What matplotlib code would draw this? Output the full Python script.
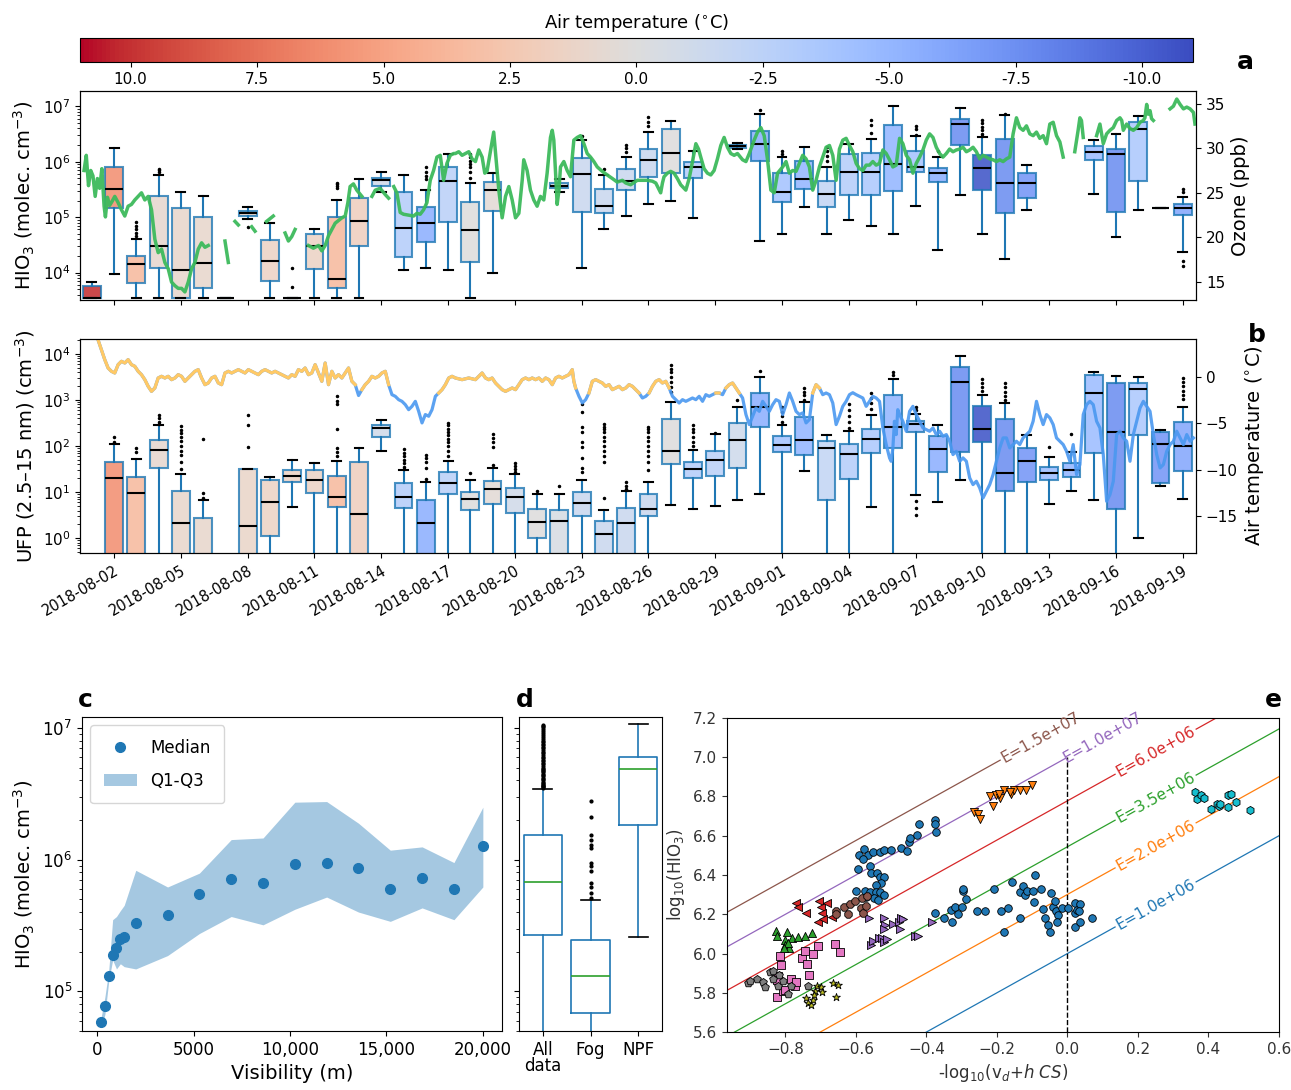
import numpy as np
import matplotlib
matplotlib.use("Agg")
import matplotlib.pyplot as plt
from matplotlib.colors import Normalize
from matplotlib.cm import ScalarMappable
from matplotlib.patches import Patch
from matplotlib.lines import Line2D

# ---------------- data ----------------
date_tick_days = [0, 3, 6, 9, 12, 15, 18, 21, 24, 27, 30, 33, 36, 39, 42, 45, 48]
date_tick_labels = ['2018-08-02', '2018-08-05', '2018-08-08', '2018-08-11', '2018-08-14',
                    '2018-08-17', '2018-08-20', '2018-08-23', '2018-08-26', '2018-08-29',
                    '2018-09-01', '2018-09-04', '2018-09-07', '2018-09-10', '2018-09-13',
                    '2018-09-16', '2018-09-19']

# daily mean air temperature (days since 2018-08-02, from -1 to 48)
temp_days = list(range(-1, 49))
day_temp = [10, 6, 3.5, 0.8, 1.0, 1.0, 1.0, 1.2, 1.4, 1.4, 1.4, 3.5, 1.8, -1, -3, -5.5, -2.5, 0,
            0.5, -1, 0, -0.5, -1.5, -1.5, -1.5, -1.5, 0, -3, -2.5, -1.2, -5.5, -4, -5, -2, -3,
            -3.5, -5, -4, -5.5, -7.5, -10.5, -7.5, -7, -4.5, -5, -4.5, -7.5, -3.5, -7, -6]

# panel a: HIO3 daily box statistics
a_days = [-1, 0, 1, 2, 3, 4, 5, 6, 7, 8, 9, 10, 11, 12, 13, 14, 15, 16, 17, 20, 21, 22, 23, 24,
          25, 26, 28, 29, 30, 31, 32, 33, 34, 35, 36, 37, 38, 39, 40, 41, 44, 45, 46, 47, 48]
a_whislo = [3.5e3, 9.3e3, 3.5e3, 3.5e3, 3.5e3, 3.5e3, 3.5e3, 9.4e4, 3.5e3, 3.5e3, 3.5e3, 3.5e3,
            3.5e3, 2.8e5, 1.1e4, 1.23e4, 1.13e4, 3.5e3, 1.0e4, 2.8e5, 1.2e4, 6.1e4, 1.07e5, 1.7e5,
            1.95e5, 9.6e4, 1.7e6, 3.7e4, 5.0e4, 1.5e5, 5.0e4, 9e4, 6.9e4, 5.0e4, 1.6e5, 2.6e4,
            2.5e5, 4.9e4, 1.78e4, 1.35e5, 2.6e5, 4.3e4, 1.36e5, 1.45e5, 2.4e4]
a_q1 = [3.5e3, 1.48e5, 6.5e3, 1.2e4, 3.5e3, 5.3e3, 3.5e3, 1.07e5, 7.1e3, 3.5e3, 1.17e4, 5.3e3,
        3.0e4, 3.7e5, 1.95e4, 3.6e4, 8.3e4, 1.55e4, 1.27e5, 3.3e5, 1.26e5, 1.17e5, 3.1e5, 5.4e5,
        6.3e5, 5.1e5, 1.75e6, 1.03e6, 1.9e5, 3.2e5, 1.54e5, 2.5e5, 2.5e5, 3.0e5, 6.5e5, 4.3e5,
        2.05e6, 3.1e5, 1.17e5, 2.2e5, 1.1e6, 1.26e5, 4.5e5, 1.45e5, 1.1e5]
a_med = [3.5e3, 3.2e5, 1.45e4, 3.0e4, 1.1e4, 1.5e4, 3.5e3, 1.17e5, 1.65e4, 3.5e3, 3.0e4, 7.8e3,
         8.4e4, 4.6e5, 6.5e4, 7.8e4, 4.5e5, 5.8e4, 3.1e5, 3.7e5, 6.0e5, 1.6e5, 4.5e5, 1.1e6,
         1.44e6, 8.1e5, 1.9e6, 2.1e6, 2.8e5, 4.9e5, 2.6e5, 6.5e5, 6.5e5, 9.3e5, 8.1e5, 6.3e5,
         4.8e6, 7.6e5, 4.1e5, 4.2e5, 1.52e6, 1.38e6, 3.9e6, 1.45e5, 1.44e5]
a_q3 = [5.8e3, 8.2e5, 2.0e4, 2.45e5, 1.45e5, 1.0e5, 3.5e3, 1.3e5, 3.8e4, 3.5e3, 4.9e4, 1.0e5,
        2.2e5, 5.1e5, 2.9e5, 1.55e5, 8.0e5, 1.9e5, 4.3e5, 4.1e5, 1.16e6, 3.2e5, 7.4e5, 1.7e6,
        3.9e6, 1.0e6, 2.05e6, 3.6e6, 6.4e5, 1.05e6, 4.5e5, 1.37e6, 1.47e6, 4.6e6, 1.6e6, 7.6e5,
        5.9e6, 1.32e6, 2.6e6, 6.3e5, 1.9e6, 1.74e6, 5.3e6, 1.45e5, 1.7e5]
a_whishi = [6.7e3, 1.77e6, 4.1e4, 5.9e5, 2.9e5, 2.4e5, 3.5e3, 1.55e5, 8.0e4, 3.5e3, 6.0e4, 2.05e5,
            4.9e5, 6.6e5, 5.7e5, 3.1e5, 1.37e6, 4.2e5, 6.2e5, 4.8e5, 2.5e6, 5.8e5, 1.22e6, 3.4e6,
            5.4e6, 1.6e6, 2.15e6, 7.4e6, 1.24e6, 1.85e6, 8.1e5, 2.1e6, 2.6e6, 1.04e7, 2.9e6,
            1.23e6, 9.3e6, 2.8e6, 7.0e6, 8.8e5, 2.5e6, 3.2e6, 6.7e6, 1.45e5, 2.3e5]
a_fliers = [[], [], [8.3e4, 7.0e4, 6.0e4, 5.2e4, 4.5e4], [7.4e5, 7.0e5, 6.6e5], [], [], [],
            [6.6e4], [], [1.23e4, 5.4e3], [], [4.2e5, 3.9e5, 3.6e5, 3.3e5], [], [], [],
            [7.9e5, 6.6e5, 5.5e5, 4.8e5], [], [1.4e6, 1.2e6, 1.05e6, 9e5, 8e5, 6.5e5, 5.2e5], [],
            [], [2.9e6], [7.4e5], [2.0e6, 1.75e6, 1.5e6], [6.4e6, 5.2e6, 4.4e6], [], [], [],
            [8.5e6], [1.55e6, 1.4e6], [], [1.85e6, 1.6e6, 1.3e6, 1.05e6], [],
            [5.6e6, 4.6e6, 3.3e6], [], [4.5e6, 3.9e6, 3.1e6], [1.6e6], [],
            [5.7e6, 5.0e6, 4.3e6, 3.7e6, 3.2e6, 2.9e6], [7.3e6], [], [], [], [], [],
            [3.2e5, 2.8e5, 1.6e4, 1.3e4]]

# panel b: UFP daily box statistics
b_days = [0, 1, 2, 3, 4, 6, 7, 8, 9, 10, 11, 12, 13, 14, 15, 16, 17, 18, 19, 20, 21, 22, 23, 24,
          25, 26, 27, 28, 29, 30, 31, 32, 33, 34, 35, 36, 37, 38, 39, 40, 41, 42, 43, 44, 45,
          46, 47, 48]
b_whislo = [0.2, 0.2, 0.2, 0.2, 0.2, 0.2, 0.2, 4.8, 0.2, 0.2, 0.2, 79, 0.2, 0.2, 0.2, 0.2, 0.2,
            0.2, 0.2, 0.2, 0.2, 0.2, 0.2, 0.2, 5.2, 4.4, 4.9, 6.9, 8.9, 0.2, 29, 0.2, 0.2, 4.7,
            0.2, 8.5, 6.0, 18.6, 0.2, 0.2, 0.2, 5.6, 10.6, 6.9, 0.2, 1.0, 13.5, 7.1]
b_q1 = [0.3, 0.3, 33, 0.3, 0.3, 0.3, 1.12, 16.2, 9.8, 4.7, 0.3, 160, 4.6, 0.3, 8.9, 4.1, 5.5,
        3.5, 1.0, 0.3, 3.05, 0.3, 0.3, 3.0, 40, 20, 22, 33, 253, 76, 65, 6.9, 19.5, 71, 91, 206,
        28, 74, 123, 10.5, 17, 18.2, 21.2, 72, 4.4, 178, 15.9, 29]
b_med = [20, 9.4, 83, 2.1, 0.35, 1.8, 6.2, 22.4, 18.2, 8.0, 3.3, 250, 7.7, 2.1, 15.5, 7.1, 12,
         8.0, 2.3, 2.4, 5.8, 1.25, 2.1, 4.3, 78, 32, 49, 135, 690, 107, 138, 89, 66, 140, 263,
         296, 87, 2460, 240, 26, 48, 26.6, 29.6, 1400, 200, 1750, 110, 98]
b_q3 = [45, 21, 133, 10.6, 2.75, 32, 18.3, 29.5, 29.6, 22, 44, 290, 15.5, 6.9, 28, 10, 17.5,
        12.6, 4.4, 4.1, 10, 2.4, 4.5, 9.1, 390, 44, 78, 309, 1400, 162, 434, 126, 110, 235,
        1300, 350, 166, 5100, 725, 380, 91, 35, 42, 3400, 2300, 2280, 206, 340]
b_whishi = [110, 52, 280, 24.5, 6.6, 32, 21, 50, 43, 48, 89, 375, 29.6, 16.3, 48, 18, 33, 24.5,
            8.9, 8.9, 18.2, 4.2, 10.5, 17, 890, 82, 182, 690, 3100, 283, 910, 178, 210, 460,
            2800, 490, 283, 8800, 1300, 850, 170, 58, 73, 3950, 3250, 3150, 218, 690]
b_fliers = [[155, 125], [90, 75], [480, 400, 340, 300],
            [270, 220, 190, 160, 130, 100, 80, 63, 45, 32], [145, 9.5, 7.5], [480, 285, 95],
            [], [], [], [1200, 950, 800, 235, 90, 75, 62], [], [], [85, 70, 60, 50, 42, 36, 32],
            [65, 55, 45, 33, 19], [320, 280, 240, 200, 170, 140, 120, 100, 80, 60], [26],
            [180, 150, 120, 95, 38], [42, 37, 32, 28], [10.5], [13.5],
            [800, 560, 260, 200, 125, 95, 55, 33, 27],
            [300, 260, 230, 200, 160, 130, 100, 80, 60, 45, 7.4], [17, 13.5, 12, 11],
            [260, 230, 200, 160, 130, 100, 80, 60, 45, 30],
            [5800, 4800, 4000, 3200, 2500, 1900, 1500], [290, 240, 200, 160, 125, 100], [190],
            [1000], [4300], [700, 550, 450, 340], [1800, 1500, 1250, 1000], [],
            [800, 600, 450, 330, 250], [1450, 1100, 850, 650], [4000, 3400],
            [720, 600, 6.3, 4.5, 3.2], [], [], [2800, 2300, 1900, 1600],
            [2300, 1900, 1500, 1200, 1000], [], [95], [180], [], [], [], [],
            [3000, 2500, 2000, 1600, 1300, 1050]]

# ozone time series (days since 2018-08-02, ppb); NaN = gap
ozone_t = [-1.35, -1.25, -1.15, -1.05, -0.95, -0.85, -0.75, -0.65, -0.55, -0.45, -0.39, -0.30,
           -0.20, -0.10, 0.03, 0.18, 0.33, 0.48, 0.63, 0.78, 0.93, 1.08, 1.23, 1.38, 1.53, 1.68,
           1.83, 1.98, 2.13, 2.28, 2.43, 2.58, 2.73, 2.88, 3.03, 3.18, 3.33, 3.48, 3.63, 3.78,
           3.93, 4.08, 4.23, 4.5, 4.98, 5.13, 5.3, 5.43, 5.58, 5.9, 6.18, 6.33, 6.6, 6.85, 7.15,
           7.4, 7.68, 7.83, 7.98, 8.13, 8.4, 8.73, 8.95, 9.18, 9.33, 9.48, 9.63, 9.78, 9.93,
           10.08, 10.23, 10.38, 10.5, 10.6, 10.75, 10.9, 11.13, 11.35, 11.58, 11.73, 11.95,
           12.18, 12.33, 12.45, 12.56, 12.7, 12.85, 13.0, 13.23, 13.45, 13.6, 13.75, 13.9,
           14.05, 14.2, 14.35, 14.5, 14.65, 14.8, 14.95, 15.1, 15.25,
           15.33, 15.48, 15.63, 15.78, 15.93, 16.08, 16.23, 16.38, 16.53, 16.65, 16.75, 17.05,
           17.28, 17.43, 17.58, 17.73, 17.88, 18.03, 18.18, 18.33, 18.40, 18.55, 18.70, 18.85,
           19.00, 19.15, 19.30, 19.45, 19.60, 19.68, 19.75, 19.83, 19.90, 19.98, 20.05, 20.20,
           20.35, 20.50, 20.65, 20.80, 20.95, 21.10, 21.25, 21.40, 21.55, 21.70, 21.93, 22.15,
           22.38, 22.60, 22.83, 22.98, 23.20, 23.50, 23.73, 23.95, 24.18, 24.33, 24.55, 24.63,
           24.70, 24.85, 25.00, 25.15, 25.30, 25.45, 25.68, 25.83, 25.98, 26.13, 26.25, 26.35,
           26.50, 26.65, 26.80, 26.95, 27.10, 27.25, 27.40, 27.55, 27.70, 27.85, 28.00, 28.23,
           28.38, 28.53, 28.75, 28.90, 29.05, 29.20, 29.35, 29.50, 29.65, 29.80, 30.03, 30.18,
           30.33, 30.48, 30.63, 30.78, 30.93, 31.08, 31.23, 31.38, 31.53, 31.68, 31.83, 31.98,
           32.13, 32.28,
           32.43, 32.58, 32.73, 32.88, 33.03, 33.18, 33.33, 33.48, 33.63, 33.78, 33.93, 34.08,
           34.23, 34.38, 34.53, 34.68, 34.83, 34.98, 35.13, 35.28, 35.43, 35.58, 35.73, 35.88,
           36.03, 36.18, 36.33, 36.48, 36.63, 36.78, 36.93, 37.08, 37.23, 37.38, 37.53, 37.68,
           37.83, 37.98, 38.13, 38.28, 38.43, 38.58, 38.73, 38.88, 39.03, 39.18, 39.33, 39.48,
           39.63, 39.78, 39.93, 40.08, 40.23, 40.38, 40.53, 40.68, 40.83, 40.98, 41.13, 41.28,
           41.43, 41.58, 41.73, 41.88, 42.03, 42.18, 42.33, 42.48, 42.63, 42.9, 43.15, 43.3,
           43.38, 43.45, 43.53, 43.8, 44.13, 44.28, 44.43, 44.58, 44.73, 44.88, 45.03, 45.18,
           45.26, 45.33, 45.48, 45.63, 45.78, 45.93, 46.08, 46.23, 46.3, 46.38, 46.45, 46.53,
           46.6, 46.68, 47.0, 47.43, 47.58, 47.73, 47.88, 48.03, 48.18, 48.33, 48.48, 48.55]
ozone_ppb = [27.5, 29.2, 25.8, 27.5, 26.9, 24.6, 26.6, 25.5, 27.7, 23.5, 22.3, 24.5, 23.6, 24.0,
             24.6, 23.9, 23.1, 22.4, 23.5, 23.7, 24.2, 24.6, 25.0, 24.2, 24.6, 23.1, 19.8, 18.3,
             18.7, 17.2, 16.5, 15.0, 14.6, 14.3, 14.3, 13.9, 15.0, 16.5, 17.2, 18.7, 19.4, 18.9,
             19.1, np.nan, 19.6, 17.2, np.nan, 21.8, 21.4, np.nan, 21.2, 20.7, np.nan, 21.8,
             22.4, np.nan, 20.5, 19.6, 20.1, 20.9, np.nan, 19.1, 18.8, 19.1, 18.5, 19.1, 20.2,
             20.9, 21.6, 21.9, 22.2, 22.4, 23.9, 25.7, 26.0, 25.3, 24.6, np.nan, 24.6, 25.3,
             25.5, 24.8, 24.4, np.nan, 25.7, 25.0, 22.8, 22.6, 22.5, 22.4, 22.7, 22.6, 23.1,
             23.9, 26.4, 27.5, 29.0, 29.2, 26.4, 28.3, 29.2, 29.4,
             29.4, 29.6, 29.2, 29.4, 29.6, 28.8, 28.5, 29.8, 29.0, 27.2, 27.4, 31.8, 25.3, 22.2,
             24.6, 25.7, 24.2, 22.2, 22.7, 26.4, 28.7, 27.5, 25.3, 24.2, 23.5, 24.6, 24.2, 27.2,
             31.2, 32.0, 30.9, 27.2, 23.7, 25.3, 27.9, 28.5, 27.5, 26.8, 30.9, 31.2, 31.4, 30.5,
             29.4, 29.0, 28.5, 27.9, 27.4, 27.0, 26.6, 26.2, 26.4, 26.1, 25.9, 26.4, 26.4, 26.4,
             26.3, 26.1, 25.0, 26.1, 26.8, 27.2, 27.4, 27.2, 26.6, 25.9, 25.3, 26.6, 28.5, 30.5,
             29.9, 29.0, 27.7, 27.2, 27.0, 27.5, 28.8, 30.3, 31.2, 30.1, 29.4, 29.2, 29.4, 28.7,
             28.5, 29.4, 30.9, 31.8, 32.3, 31.4, 28.7, 25.3, 25.0, 27.2, 27.9, 28.5, 27.2, 27.5,
             27.4, 28.3, 29.2, 28.8, 27.9, 25.3, 26.4, 27.9, 29.0, 30.1, 30.3, 29.2,
             26.4, 29.9, 30.9, 31.1, 30.3, 29.6, 28.3, 27.7, 27.5, 28.1, 28.1, 28.5, 28.1, 28.3,
             29.8, 29.4, 28.7, 27.9, 28.1, 31.1, 30.5, 29.2, 28.7, 27.2, 28.3, 29.0, 29.8, 30.9,
             31.6, 31.2, 30.1, 29.4, 29.0, 29.4, 29.9, 29.6, 29.8, 29.9, 30.1, 29.6, 29.8, 30.1,
             29.6, 28.8, 29.2, 29.0, 28.8, 28.7, 28.5, 28.7, 28.5, 28.8, 29.0, 31.6, 33.4, 32.3,
             32.0, 32.5, 31.6, 31.4, 31.8, 31.1, 31.4, 30.5, 32.7, 32.9, 31.4, 30.7, 29.0, np.nan,
             29.6, 32.0, 33.4, 33.1, 31.2, np.nan, 31.4, 32.7, 30.5, 31.6, 32.0, 32.3, 33.1, 33.4,
             33.1, 32.0, 32.7, 32.2, 32.0, 32.3, 32.9, 33.1, 33.4, 34.9, 33.8, 34.2, 33.3, 33.1,
             np.nan, 34.4, 34.7, 35.5, 34.9, 34.4, 34.6, 34.4, 34.0, 32.7]

# air temperature time series (days since 2018-08-02, deg C)
temp_t = [-0.80, -0.72, -0.57, -0.42, -0.27, -0.12, 0.03, 0.18, 0.33, 0.48, 0.63, 0.78, 0.93,
          1.08, 1.23, 1.38, 1.53, 1.68, 1.83, 1.98, 2.13, 2.28, 2.43, 2.58, 2.73, 2.88, 3.03,
          3.18, 3.33, 3.48, 3.63, 3.78, 3.93, 4.08, 4.23, 4.38, 4.53, 4.68, 4.83, 4.98, 5.13,
          5.28, 5.43, 5.58, 5.73, 5.88, 6.03, 6.18, 6.33, 6.48, 6.63, 6.78, 6.93, 7.08, 7.23,
          7.38, 7.53, 7.68, 7.83, 7.98, 8.13, 8.28, 8.43, 8.58, 8.73, 8.88, 9.03, 9.18, 9.33,
          9.48, 9.63, 9.78, 9.93, 10.08, 10.23, 10.38, 10.53, 10.68, 10.83, 10.98, 11.13, 11.28,
          11.43, 11.58, 11.73, 11.88, 12.03, 12.18, 12.33, 12.48, 12.63, 12.78, 12.93, 13.08,
          13.23, 13.38, 13.53, 13.68, 13.83, 13.98, 14.13, 14.28, 14.43, 14.58, 14.73, 14.88,
          15.03, 15.18, 15.33, 15.63, 15.93, 16.23, 16.53, 16.68, 16.83, 16.98, 17.13, 17.28,
          17.43, 17.58, 17.73, 17.88, 18.03, 18.18, 18.33, 18.48, 18.63, 18.78, 18.93, 19.08,
          19.23, 19.38, 19.53, 19.68, 19.83, 19.98, 20.13, 20.28, 20.43, 20.58, 20.65, 20.73,
          20.88, 21.03, 21.18, 21.33, 21.48, 21.63, 21.78, 21.93, 22.08, 22.23, 22.38, 22.53,
          22.68, 22.83, 22.98, 23.13, 23.28, 23.43, 23.58, 23.73, 23.88, 24.03, 24.18, 24.33,
          24.48, 24.63, 24.78, 24.93, 25.08, 25.23, 25.38, 25.53, 25.68, 25.83, 25.98, 26.13,
          26.28, 26.43, 26.58, 26.73, 26.88, 27.03, 27.18, 27.33, 27.48, 27.63, 27.78, 27.93,
          28.08, 28.23, 28.38, 28.53, 28.68, 28.83, 28.98, 29.13, 29.28, 29.43, 29.58, 29.73,
          29.88, 30.03, 30.18, 30.33, 30.48, 30.63, 30.78, 30.93, 31.08, 31.23, 31.38, 31.53,
          31.68, 31.83, 31.98, 32.13, 32.28, 32.43, 32.58, 32.73, 32.88, 33.03, 33.18, 33.33,
          33.48, 33.63, 33.78, 33.93, 34.08, 34.23, 34.38, 34.53, 34.68, 34.83, 34.90, 34.98,
          35.05, 35.13, 35.20, 35.28, 35.43, 35.58, 35.73, 35.88, 36.03, 36.18, 36.33, 36.48,
          36.63, 36.78, 36.93, 37.08, 37.23, 37.38, 37.53, 37.68, 37.83, 37.98, 38.13, 38.28,
          38.43, 38.58, 38.73, 38.88, 39.03, 39.18, 39.33, 39.48, 39.63, 39.78, 39.93, 40.08,
          40.23, 40.38, 40.53, 40.68, 40.83, 40.98, 41.13, 41.28, 41.43, 41.58, 41.73, 41.88,
          42.03, 42.18, 42.33, 42.48, 42.63, 42.78, 42.93, 43.08, 43.23, 43.38, 43.53, 43.68,
          43.83, 43.98, 44.13, 44.28, 44.43, 44.58, 44.73, 44.88, 45.03, 45.18, 45.33, 45.48,
          45.63, 45.78, 45.93, 46.08, 46.23, 46.38, 46.53, 46.68, 46.83, 46.98, 47.13, 47.28,
          47.43, 47.58, 47.73, 47.88, 48.03, 48.18, 48.33, 48.48]
temp_c = [4.6, 4.0, 2.95, 1.87, 0.97, 0.61, 0.43, 1.33, 1.69, 1.51, 1.87, 1.33, 1.15, 0.61, 0.25,
          -0.29, -1.01, -1.55, -1.19, -0.11, 0.07, -0.11, 0.07, -0.29, -0.11, 0.25, 0.07, -0.47,
          -0.11, 0.25, 0.61, 0.79, -0.11, -0.83, -0.65, -0.11, 0.07, -0.65, -0.83, 0.43, 0.61,
          0.43, 0.61, 0.79, 0.61, 0.43, 0.79, 0.61, 0.43, 0.25, 0.61, 0.79, 0.61, 0.43, 0.61,
          0.43, 0.25, 0.07, -0.11, 0.25, 0.07, 0.79, 0.61, 0.97, 0.25, 0.43, 1.33, 0.43, -0.47,
          1.51, -0.83, 0.61, -0.11, 0.25, -0.11, 0.43, 0.97, -0.47, -0.83, -2.0, -1.37, -0.83,
          -0.47, 0.07, -0.11, 0.07, 0.43, 0.61, -0.83, -1.91, -2.09, -2.45, -2.63, -2.99, -3.53,
          -3.17, -2.63, -3.71, -4.96, -4.06, -4.24, -3.53, -2.09, -1.73, -1.37, -0.83, -0.11,
          0.07, -0.11, -0.29, -0.11, -0.29, 0.43, -0.11, -0.29, -0.11, -0.65, -1.01, -1.37,
          -1.55, -1.37, -1.19, -1.37, -0.83, -0.29, -0.11, -0.29, -0.11, -0.29, -0.11, -0.47,
          -0.11, -0.29, -0.83, -0.11, 0.07, -0.11, 0.07, 0.25, 0.79, -0.47, -1.19, -2.09, -2.81,
          -2.45, -1.73, -0.47, -0.29, -0.47, -0.65, -1.01, -0.83, -1.37, -1.19, -1.01, -1.37,
          -1.19, -0.83, -1.01, -1.37, -1.73, -2.27, -2.09, -1.73, -1.01, -0.47, -0.29, -0.65,
          -0.47, -1.19, -2.09, -2.45, -2.81, -2.45, -2.63, -2.45, -2.27, -2.45, -2.09, -2.63,
          -1.91, -2.09, -1.91, -1.73, -1.73, -1.91, -1.19, -0.83, -0.65, -1.19, -1.73, -2.27,
          -4.06, -5.14, -4.24, -3.35, -3.71, -2.63, -3.17, -3.71, -2.99, -2.45, -2.63, -4.06,
          -2.99, -1.73, -2.63, -3.71, -4.06, -3.88, -4.96, -4.60, -1.73, -0.83, -1.19, -1.91,
          -1.73, -1.91, -2.81, -5.14, -4.24, -3.17, -2.63, -1.91, -1.70, -1.91, -2.09, -2.27,
          -3.17, -2.63, -2.09, -2.27, -2.63, -5.5, -7.3, -8.74, -9.1, -7.66, -4.78, -6.22,
          -3.53, -4.06, -4.78, -5.86, -3.71, -3.17, -4.06, -4.78, -5.5, -5.68, -5.86, -5.5,
          -6.22, -5.86, -6.4, -6.22, -6.94, -8.38, -8.02, -9.1, -8.74, -9.1, -10.9, -11.62,
          -11.26, -11.98, -13.06, -12.34, -11.62, -10.54, -9.1, -7.66, -6.58, -6.58, -7.66,
          -7.3, -6.94, -7.3, -6.58, -6.22, -5.86, -4.78, -2.63, -4.06, -5.14, -4.06, -4.42,
          -5.14, -6.58, -6.94, -7.3, -8.02, -9.1, -7.3, -10.54, -9.46, -4.06, -2.99, -2.63,
          -2.99, -4.78, -5.5, -8.38, -13.42, -12.7, -11.26, -6.22, -5.86, -6.58, -6.94, -9.1,
          -6.22, -4.78, -3.35, -2.63, -3.17, -3.71, -6.22, -8.38, -9.82, -9.46, -8.02, -7.3,
          -6.94, -5.86, -6.58, -7.3, -6.22, -6.94, -6.58]

# panel c: HIO3 vs visibility
vis_m = [200, 400, 600, 800, 1000, 1200, 1400, 2000, 3650, 5300, 6950, 8600, 10250, 11900,
         13550, 15200, 16850, 18500, 20000]
vis_median = [5.9e4, 7.8e4, 1.3e5, 1.9e5, 2.15e5, 2.5e5, 2.6e5, 3.3e5, 3.8e5, 5.5e5, 7.1e5,
              6.7e5, 9.2e5, 9.4e5, 8.7e5, 6.0e5, 7.2e5, 6.0e5, 1.26e6]
vis_q1 = [5.3e4, 6.7e4, 1.2e5, 1.73e5, 1.48e5, 1.62e5, 1.54e5, 1.48e5, 1.87e5, 2.75e5, 3.7e5,
          3.2e5, 4.2e5, 5.2e5, 4.0e5, 3.4e5, 4.3e5, 3.5e5, 6.2e5]
vis_q3 = [6.3e4, 9.1e4, 1.45e5, 3.5e5, 3.7e5, 4.1e5, 4.5e5, 8.3e5, 6.2e5, 7.9e5, 1.42e6,
          1.46e6, 2.73e6, 2.76e6, 1.89e6, 1.18e6, 1.25e6, 9.5e5, 2.5e6]

# panel d: HIO3 by condition
d_labels = ['All\ndata', 'Fog', 'NPF']
d_whislo = [3.5e3, 3.5e3, 2.6e5]
d_q1 = [2.7e5, 6.9e4, 1.83e6]
d_med = [6.8e5, 1.3e5, 4.9e6]
d_q3 = [1.54e6, 2.45e5, 6.0e6]
d_whishi = [3.45e6, 4.9e5, 1.07e7]
d_fliers = [[3.5e6, 3.55e6, 3.6e6, 3.65e6, 3.7e6, 3.75e6, 3.8e6, 3.9e6, 4.0e6, 4.1e6, 4.2e6,
             4.3e6, 4.4e6, 4.5e6, 4.6e6, 4.7e6, 4.8e6, 4.9e6, 5.0e6, 5.15e6, 5.3e6, 5.45e6,
             5.6e6, 5.75e6, 5.9e6, 6.05e6, 6.2e6, 6.4e6, 6.6e6, 6.8e6, 7.0e6, 7.2e6, 7.4e6,
             7.6e6, 7.8e6, 8.0e6, 8.3e6, 8.6e6, 8.9e6, 9.2e6, 9.5e6, 9.8e6, 1.01e7, 1.04e7,
             1.06e7],
            [2.8e6, 2.1e6, 1.55e6, 1.4e6, 1.3e6, 1.23e6, 9.4e5, 8.9e5, 8.2e5, 6.6e5, 6.2e5,
             5.6e5, 5.1e5],
            []]

# panel e: scatter groups (x = -log10(vd + h CS), y = log10(HIO3))
e_blue_x = [-0.594, -0.591, -0.577, -0.566, -0.552, -0.533, -0.520, -0.502, -0.473, -0.456,
            -0.450, -0.447, -0.427, -0.422, -0.376, -0.376, -0.372, -0.580, -0.560, -0.558,
            -0.539, -0.531, -0.520, -0.528, -0.543, -0.600, -0.573, -0.560, -0.543, -0.531,
            -0.520, -0.571, -0.548, -0.537,
            -0.376, -0.349, -0.327, -0.330, -0.318, -0.312, -0.297, -0.295, -0.287, -0.298,
            -0.256, -0.235, -0.209, -0.188, -0.168, -0.157, -0.136, -0.180, -0.134, -0.125,
            -0.120, -0.114, -0.099, -0.093, -0.096, -0.074, -0.070, -0.065, -0.055, -0.051,
            -0.047, -0.041, -0.036, -0.032, -0.028, -0.030, -0.015, 0.002, 0.020, 0.022,
            0.020, 0.028, 0.036, 0.036, 0.033, 0.070]
e_blue_y = [6.433, 6.501, 6.530, 6.501, 6.518, 6.518, 6.527, 6.527, 6.538, 6.523, 6.569, 6.586,
            6.606, 6.659, 6.682, 6.662, 6.620, 6.484, 6.447, 6.408, 6.411, 6.391, 6.391, 6.361,
            6.349, 6.320, 6.320, 6.315, 6.315, 6.315, 6.298, 6.290, 6.281, 6.273,
            6.205, 6.183, 6.158, 6.222, 6.236, 6.202, 6.320, 6.327, 6.278, 6.239, 6.219, 6.219,
            6.327, 6.219, 6.230, 6.362, 6.180, 6.110, 6.315, 6.344, 6.298, 6.318, 6.318, 6.400,
            6.264, 6.327, 6.225, 6.183, 6.146, 6.110, 6.310, 6.239, 6.269, 6.217, 6.197, 6.158,
            6.233, 6.233, 6.256, 6.205, 6.137, 6.222, 6.252, 6.158, 6.217, 6.180]
e_orange_x = [-0.266, -0.255, -0.249, -0.220, -0.212, -0.203, -0.191, -0.180, -0.159, -0.151,
              -0.136, -0.119, -0.101, -0.194, -0.162]
e_orange_y = [6.721, 6.713, 6.687, 6.801, 6.750, 6.806, 6.794, 6.831, 6.814, 6.831, 6.834,
              6.834, 6.857, 6.814, 6.823]
e_green_x = [-0.827, -0.825, -0.797, -0.800, -0.802, -0.791, -0.781, -0.765, -0.744, -0.724,
             -0.793, -0.805]
e_green_y = [6.117, 6.087, 6.112, 6.070, 6.044, 6.027, 6.078, 6.083, 6.090, 6.104, 6.053, 6.027]
e_red_x = [-0.771, -0.765, -0.741, -0.704, -0.698, -0.696, -0.707, -0.694, -0.682, -0.668]
e_red_y = [6.259, 6.239, 6.208, 6.268, 6.239, 6.205, 6.163, 6.175, 6.259, 6.188]
e_purple_x = [-0.563, -0.558, -0.551, -0.535, -0.525, -0.520, -0.512, -0.521, -0.517, -0.521,
              -0.495, -0.479, -0.473, -0.468, -0.475, -0.433, -0.424, -0.384]
e_purple_y = [6.180, 6.044, 6.066, 6.078, 6.081, 6.058, 6.073, 6.180, 6.146, 6.124, 6.149,
              6.158, 6.180, 6.175, 6.124, 6.090, 6.090, 6.158]
e_brown_x = [-0.658, -0.656, -0.635, -0.624, -0.617, -0.602, -0.586, -0.583, -0.580, -0.571,
             -0.569]
e_brown_y = [6.219, 6.200, 6.236, 6.200, 6.252, 6.269, 6.230, 6.281, 6.205, 6.242, 6.293]
e_pink_x = [-0.816, -0.813, -0.821, -0.825, -0.823, -0.808, -0.800, -0.784, -0.772, -0.754,
            -0.746, -0.739, -0.733, -0.721, -0.709, -0.659, -0.644, -0.771]
e_pink_y = [5.988, 5.943, 5.884, 5.867, 5.779, 5.807, 5.816, 5.870, 5.833, 5.976, 6.014, 5.948,
            5.892, 5.999, 6.036, 6.048, 6.007, 5.853]
e_gray_x = [-0.906, -0.902, -0.882, -0.865, -0.857, -0.845, -0.836, -0.819, -0.821, -0.808,
            -0.793, -0.784, -0.735, -0.834]
e_gray_y = [5.850, 5.858, 5.872, 5.855, 5.829, 5.904, 5.909, 5.892, 5.836, 5.858, 5.796, 5.833,
            5.833, 5.870]
e_olive_x = [-0.741, -0.735, -0.729, -0.721, -0.715, -0.710, -0.700, -0.696, -0.664, -0.650,
             -0.656, -0.719]
e_olive_y = [5.774, 5.748, 5.740, 5.765, 5.807, 5.836, 5.829, 5.802, 5.850, 5.841, 5.779, 5.790]
e_cyan_x = [0.362, 0.367, 0.379, 0.387, 0.408, 0.425, 0.430, 0.454, 0.463, 0.456, 0.477, 0.517,
            0.433]
e_cyan_y = [6.823, 6.789, 6.806, 6.794, 6.738, 6.760, 6.750, 6.806, 6.814, 6.747, 6.772, 6.730,
            6.763]

e_E_values = [1.0e6, 2.0e6, 3.5e6, 6.0e6, 1.0e7, 1.5e7]
e_E_labels = ['E=1.0e+06', 'E=2.0e+06', 'E=3.5e+06', 'E=6.0e+06', 'E=1.0e+07', 'E=1.5e+07']

# ---------------- style ----------------
plt.rcParams['font.family'] = ['DejaVu Sans']
fig = plt.figure(figsize=(12.91, 10.90), dpi=100)

cmap = plt.get_cmap('coolwarm')
norm = Normalize(vmin=-11, vmax=11)
temp_lookup = dict(zip(temp_days, day_temp))
BLUE = '#1f77b4'


def draw_boxes(ax, days, lo, q1, med, q3, hi, fliers):
    stats = []
    for i in range(len(days)):
        stats.append(dict(whislo=lo[i], q1=q1[i], med=med[i], q3=q3[i], whishi=hi[i],
                          fliers=np.array(fliers[i], dtype=float)))
    art = ax.bxp(stats, positions=days, widths=0.8, patch_artist=True, showfliers=True,
                 boxprops=dict(edgecolor=(0.12, 0.47, 0.71, 0.8), linewidth=1.5),
                 whiskerprops=dict(color=BLUE, linewidth=1.5),
                 capprops=dict(color='black', linewidth=1.5),
                 medianprops=dict(color='black', linewidth=1.5),
                 flierprops=dict(marker='.', markersize=3, markerfacecolor='black',
                                 markeredgecolor='black', linestyle='none'),
                 manage_ticks=False)
    for patch, d in zip(art['boxes'], days):
        r, g, b, _ = cmap(norm(temp_lookup[d]))
        patch.set_facecolor((r, g, b, 0.88))
    return art


XL = (-1.53, 48.6)

# colorbar
cax = fig.add_axes([0.062, 0.943, 0.862, 0.022])
cb = fig.colorbar(ScalarMappable(norm=norm, cmap=cmap), cax=cax, orientation='horizontal')
cax.invert_xaxis()
cb_ticks = [10, 7.5, 5, 2.5, 0, -2.5, -5, -7.5, -10]
cb.set_ticks(cb_ticks)
cb.set_ticklabels(['10.0', '7.5', '5.0', '2.5', '0.0', '-2.5', '-5.0', '-7.5', '-10.0'])
cax.tick_params(labelsize=11)
cax.set_xlabel('Air temperature ($^{\\circ}$C)', fontsize=13, labelpad=7)
cax.xaxis.set_label_position('top')

# panel a
ax_a = fig.add_axes([0.062, 0.7248, 0.8645, 0.1917])
draw_boxes(ax_a, a_days, a_whislo, a_q1, a_med, a_q3, a_whishi, a_fliers)
ax_a.set_yscale('log')
ax_a.set_ylim(3.2e3, 1.9e7)
ax_a.set_xlim(*XL)
ax_a.set_xticks(date_tick_days)
ax_a.tick_params(axis='x', labelbottom=False)
ax_a.tick_params(axis='y', labelsize=11)
ax_a.set_ylabel('HIO$_3$ (molec. cm$^{-3}$)', fontsize=14)
ax_a2 = ax_a.twinx()
ax_a2.plot(ozone_t, ozone_ppb, color='#3dba5c', lw=2.5, alpha=0.95)
ax_a2.set_ylim(13.0, 36.4)
ax_a2.set_yticks([15, 20, 25, 30, 35])
ax_a2.tick_params(axis='y', labelsize=11)
ax_a2.set_ylabel('Ozone (ppb)', fontsize=14)
ax_a2.set_xlim(*XL)

# panel b
ax_b = fig.add_axes([0.062, 0.4927, 0.8645, 0.1963])
draw_boxes(ax_b, b_days, b_whislo, b_q1, b_med, b_q3, b_whishi, b_fliers)
ax_b.set_yscale('log')
ax_b.set_ylim(0.48, 2.1e4)
ax_b.set_xlim(*XL)
ax_b.set_xticks(date_tick_days)
ax_b.set_xticklabels(date_tick_labels, rotation=30, ha='right', rotation_mode='anchor',
                     fontsize=10.5)
ax_b.tick_params(axis='y', labelsize=11)
ax_b.set_ylabel('UFP (2.5\u201315 nm) (cm$^{-3}$)', fontsize=14)
ax_b2 = ax_b.twinx()
temp_arr = np.array(temp_c, dtype=float)
ax_b2.plot(temp_t, temp_arr, color='#4a98f0', lw=2.3, alpha=0.9)
ax_b2.plot(temp_t, np.where(temp_arr > -1.8, temp_arr, np.nan), color='#ffc966', lw=2.3)
ax_b2.set_ylim(-19.0, 4.1)
ax_b2.set_yticks([-15, -10, -5, 0])
ax_b2.tick_params(axis='y', labelsize=11)
ax_b2.set_ylabel('Air temperature ($^{\\circ}$C)', fontsize=14)
ax_b2.set_xlim(*XL)

# panel c
ax_c = fig.add_axes([0.0635, 0.0541, 0.3253, 0.2881])
ax_c.fill_between(vis_m, vis_q1, vis_q3, color=BLUE, alpha=0.4, lw=0)
ax_c.plot(vis_m, vis_median, 'o', color=BLUE, ms=7)
ax_c.set_yscale('log')
ax_c.set_ylim(5.0e4, 1.21e7)
ax_c.set_xlim(-790, 20990)
ax_c.set_xticks([0, 5000, 10000, 15000, 20000])
ax_c.set_xticklabels(['0', '5000', '10,000', '15,000', '20,000'])
ax_c.tick_params(labelsize=12)
ax_c.set_xlabel('Visibility (m)', fontsize=14)
ax_c.set_ylabel('HIO$_3$ (molec. cm$^{-3}$)', fontsize=14)
handles = [Line2D([], [], marker='o', color=BLUE, ls='none', ms=7),
           Patch(facecolor=BLUE, alpha=0.4, lw=0)]
ax_c.legend(handles, ['Median', 'Q1-Q3'], loc='upper left', fontsize=12,
            borderpad=0.8, labelspacing=0.9, handlelength=2.0)

# panel d
ax_d = fig.add_axes([0.402, 0.0541, 0.1108, 0.2881])
d_stats = [dict(whislo=d_whislo[i], q1=d_q1[i], med=d_med[i], q3=d_q3[i], whishi=d_whishi[i],
                fliers=np.array(d_fliers[i], dtype=float)) for i in range(3)]
ax_d.bxp(d_stats, positions=[1, 2, 3], widths=0.8, showfliers=True,
         boxprops=dict(color=BLUE, linewidth=1.2),
         whiskerprops=dict(color=BLUE, linewidth=1.2),
         capprops=dict(color='black', linewidth=1.2),
         medianprops=dict(color='#2ca02c', linewidth=1.2),
         flierprops=dict(marker='.', markersize=4, markerfacecolor='black',
                         markeredgecolor='black', linestyle='none'))
ax_d.set_yscale('log')
ax_d.set_ylim(5.0e4, 1.21e7)
ax_d.set_xlim(0.5, 3.5)
ax_d.set_xticks([1, 2, 3])
ax_d.set_xticklabels(d_labels, fontsize=12, linespacing=0.9)
ax_d.tick_params(axis='y', labelleft=False)

# panel e
ax_e = fig.add_axes([0.5631, 0.0532, 0.4276, 0.2881])
XE = (-0.966, 0.6)
line_colors = ['tab:blue', 'tab:orange', 'tab:green', 'tab:red', 'tab:purple', 'tab:brown']
label_x = [0.25, 0.25, 0.25, 0.25, 0.10, -0.076]
gap_half = [0.115, 0.115, 0.115, 0.115, 0.105, 0.115]
for E, lab, col, lx, gh in zip(e_E_values, e_E_labels, line_colors, label_x, gap_half):
    c0 = np.log10(E)
    xs1 = np.array([XE[0], lx - gh])
    ax_e.plot(xs1, xs1 + c0, color=col, lw=0.9)
    if lx + gh < XE[1]:
        xs2 = np.array([lx + gh, XE[1]])
        ax_e.plot(xs2, xs2 + c0, color=col, lw=0.9)
    ax_e.text(lx, lx + c0, lab, color=col, fontsize=11, rotation=45,
              transform_rotates_text=True, rotation_mode='anchor', ha='center',
              va='center', clip_on=False)
ax_e.axvline(0, ymax=(7.0 - 5.6) / 1.6, color='black', ls='--', lw=1)
groups = [(e_blue_x, e_blue_y, 'tab:blue', 'o', 30),
          (e_orange_x, e_orange_y, 'tab:orange', 'v', 34),
          (e_green_x, e_green_y, 'tab:green', '^', 34),
          (e_red_x, e_red_y, 'tab:red', '<', 34),
          (e_purple_x, e_purple_y, 'tab:purple', '>', 34),
          (e_brown_x, e_brown_y, 'tab:brown', '8', 34),
          (e_pink_x, e_pink_y, 'tab:pink', 's', 30),
          (e_gray_x, e_gray_y, 'tab:gray', 'p', 34),
          (e_olive_x, e_olive_y, 'tab:olive', '*', 34),
          (e_cyan_x, e_cyan_y, 'tab:cyan', 'h', 34)]
for gx, gy, col, mk, s in groups:
    ax_e.scatter(gx, gy, c=col, marker=mk, s=s, edgecolors='black', linewidths=0.6, zorder=3)
ax_e.set_xlim(*XE)
ax_e.set_ylim(5.6, 7.2)
ax_e.set_xticks([-0.8, -0.6, -0.4, -0.2, 0.0, 0.2, 0.4, 0.6])
ax_e.set_yticks([5.6, 5.8, 6.0, 6.2, 6.4, 6.6, 6.8, 7.0, 7.2])
ax_e.tick_params(labelsize=11, colors='#333333')
ax_e.set_xlabel('-log$_{10}$(v$_d$+$h$ $CS$)', fontsize=12, color='#333333')
ax_e.set_ylabel('log$_{10}$(HIO$_3$)', fontsize=12, color='#333333')

# panel letters
for txt, x, y in [('a', 0.9644, 0.943), ('b', 0.9737, 0.6927), ('c', 0.0658, 0.3578),
                  ('d', 0.4067, 0.3578), ('e', 0.986, 0.3578)]:
    fig.text(x, y, txt, fontsize=18, fontweight='bold', ha='center', va='center')

fig.savefig('out.png', dpi=100)
